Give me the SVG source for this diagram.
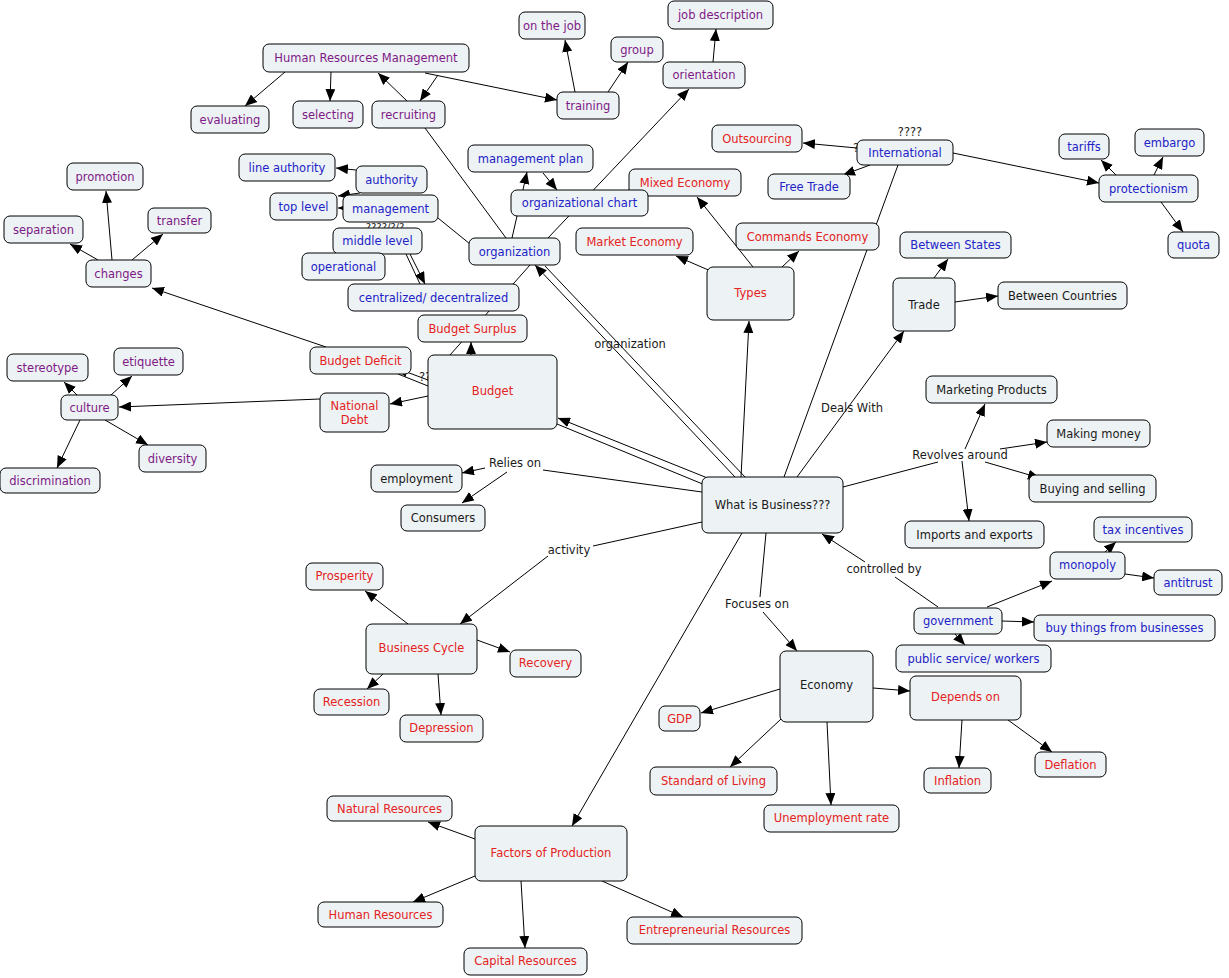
<svg xmlns="http://www.w3.org/2000/svg" width="1229" height="978" viewBox="0 0 1229 978">
<style>
.n rect{fill:#edf2f4;stroke:#000;stroke-width:1}
.n text,.l{font-family:"DejaVu Sans",Verdana,sans-serif;font-size:11.5px;text-anchor:middle;dominant-baseline:central}
.p text{fill:#7d1a86}
.b text{fill:#2222c8}
.r text{fill:#e42222}
.k text{fill:#1a1a1a}
.l{fill:#1a1a1a}
.q{font-family:"DejaVu Sans",sans-serif;font-size:10px;fill:#1a1a1a;text-anchor:middle}
#c path{fill:none;stroke:#000;stroke-width:1}
#c path.a{marker-end:url(#ah)}
</style>
<defs>
<marker id="ah" viewBox="0 0 12 10" refX="12" refY="5" markerWidth="12" markerHeight="10" markerUnits="userSpaceOnUse" orient="auto"><path d="M0,0 L12,5 L0,10 z" fill="#000"/></marker>
</defs>
<rect width="1229" height="978" fill="#fff"/>
<g id="c">
<path class="a" d="M285,72 L245,106"/>
<path class="a" d="M331,72 L330,101"/>
<path class="a" d="M407,101 L378,73"/>
<path class="a" d="M438,75 L420,101"/>
<path class="a" d="M425,73 L557,100"/>
<path class="a" d="M575,92 L565,40"/>
<path class="a" d="M608,92 L628,62"/>
<path class="a" d="M713,62 L716,29"/>
<path class="a" d="M548,238 L689,89"/>
<path d="M425,128 L506,238"/>
<path class="a" d="M512,238 L527,172"/>
<path class="a" d="M543,173 L557,190"/>
<path d="M438,218 L470,244"/>
<path class="a" d="M356,170 L336,168"/>
<path class="a" d="M360,193 L338,196"/>
<path class="a" d="M343,208 L338,208"/>
<path class="a" d="M410,254 L425,284"/>
<path d="M406,254 L420,284"/>
<path d="M450,355 L530,265"/>
<path class="a" d="M471,355 L471,342"/>
<path class="a" d="M428,380 L396,368"/>
<path d="M428,386 L398,374"/>
<path class="a" d="M428,396 L390,404"/>
<path class="a" d="M326,347 L152,288"/>
<path class="a" d="M320,399 L119,407"/>
<path class="a" d="M112,260 L106,191"/>
<path class="a" d="M98,260 L70,244"/>
<path class="a" d="M132,260 L163,234"/>
<path class="a" d="M77,395 L64,382"/>
<path class="a" d="M111,395 L132,376"/>
<path class="a" d="M105,420 L148,445"/>
<path class="a" d="M80,420 L57,468"/>
<path class="a" d="M735,477 L535,265"/>
<path d="M745,477 L545,266"/>
<path class="a" d="M710,479 L558,418"/>
<path d="M705,485 L557,424"/>
<path class="a" d="M741,477 L749,321"/>
<path d="M784,477 L898,165"/>
<path class="a" d="M797,477 L904,331"/>
<path d="M843,487 L938,462"/>
<path class="a" d="M965,449 L985,404"/>
<path class="a" d="M1000,449 L1047,442"/>
<path class="a" d="M985,462 L1040,478"/>
<path class="a" d="M962,461 L969,521"/>
<path d="M702,492 L543,470"/>
<path class="a" d="M485,468 L462,473"/>
<path class="a" d="M507,472 L462,503"/>
<path d="M702,522 L593,546"/>
<path class="a" d="M548,556 L460,624"/>
<path class="a" d="M408,624 L365,591"/>
<path class="a" d="M477,640 L510,652"/>
<path class="a" d="M383,674 L367,689"/>
<path class="a" d="M438,674 L441,715"/>
<path d="M766,533 L760,597"/>
<path class="a" d="M763,612 L797,651"/>
<path class="a" d="M780,689 L701,713"/>
<path class="a" d="M781,719 L730,767"/>
<path class="a" d="M827,722 L831,805"/>
<path class="a" d="M873,688 L910,691"/>
<path class="a" d="M962,720 L959,768"/>
<path class="a" d="M1008,720 L1052,752"/>
<path class="a" d="M742,533 L572,826"/>
<path class="a" d="M475,839 L428,822"/>
<path class="a" d="M475,876 L413,902"/>
<path class="a" d="M521,881 L525,948"/>
<path class="a" d="M602,881 L683,917"/>
<path d="M938,607 L895,577"/>
<path class="a" d="M865,562 L822,534"/>
<path class="a" d="M987,607 L1052,581"/>
<path class="a" d="M1105,552 L1116,542"/>
<path class="a" d="M1125,574 L1154,578"/>
<path class="a" d="M1002,621 L1034,622"/>
<path class="a" d="M955,634 L965,645"/>
<path class="a" d="M857,148 L803,143"/>
<path class="a" d="M870,165 L843,175"/>
<path class="a" d="M953,153 L1099,183"/>
<path class="a" d="M1116,175 L1101,160"/>
<path class="a" d="M1154,175 L1163,157"/>
<path class="a" d="M1161,202 L1183,232"/>
<path class="a" d="M713,272 L676,256"/>
<path class="a" d="M753,267 L697,197"/>
<path class="a" d="M782,267 L799,251"/>
<path class="a" d="M934,278 L948,259"/>
<path class="a" d="M955,302 L998,296"/>
</g>
<text class="l" x="630" y="344">organization</text>
<text class="l" x="852" y="408">Deals With</text>
<text class="l" x="960" y="455">Revolves around</text>
<text class="l" x="515" y="463">Relies on</text>
<text class="l" x="569" y="550">activity</text>
<text class="l" x="757" y="604">Focuses on</text>
<text class="l" x="884" y="569">controlled by</text>
<text class="l" x="910" y="132">????</text>
<text class="l" x="856" y="148">?</text>
<text class="l" x="425" y="377">??</text>
<text class="q" x="385" y="231">????/?/?</text>
<g id="n1" class="n p"><rect x="263" y="44" width="206" height="28" rx="6"/><text x="366" y="58">Human Resources Management</text></g>
<g id="n2" class="n p"><rect x="191" y="106" width="78" height="27" rx="6"/><text x="230" y="119.5">evaluating</text></g>
<g id="n3" class="n p"><rect x="293" y="101" width="70" height="27" rx="6"/><text x="328" y="114.5">selecting</text></g>
<g id="n4" class="n p"><rect x="372" y="101" width="73" height="27" rx="6"/><text x="408.5" y="114.5">recruiting</text></g>
<g id="n5" class="n p"><rect x="557" y="92" width="62" height="27" rx="6"/><text x="588" y="105.5">training</text></g>
<g id="n6" class="n p"><rect x="519" y="12" width="66" height="27" rx="6"/><text x="552" y="25.5">on the job</text></g>
<g id="n7" class="n p"><rect x="611" y="37" width="52" height="25" rx="6"/><text x="637" y="49.5">group</text></g>
<g id="n8" class="n p"><rect x="663" y="62" width="82" height="26" rx="6"/><text x="704" y="75">orientation</text></g>
<g id="n9" class="n p"><rect x="668" y="1" width="105" height="28" rx="6"/><text x="720.5" y="15">job description</text></g>
<g id="n10" class="n r"><rect x="712" y="125" width="90" height="27" rx="6"/><text x="757" y="138.5">Outsourcing</text></g>
<g id="n11" class="n b"><rect x="857" y="140" width="96" height="25" rx="6"/><text x="905" y="152.5">International</text></g>
<g id="n12" class="n b"><rect x="768" y="174" width="82" height="25" rx="6"/><text x="809" y="186.5">Free Trade</text></g>
<g id="n13" class="n b"><rect x="1059" y="134" width="50" height="25" rx="6"/><text x="1084" y="146.5">tariffs</text></g>
<g id="n14" class="n b"><rect x="1135" y="129" width="69" height="27" rx="6"/><text x="1169.5" y="142.5">embargo</text></g>
<g id="n15" class="n b"><rect x="1099" y="175" width="99" height="27" rx="6"/><text x="1148.5" y="188.5">protectionism</text></g>
<g id="n16" class="n b"><rect x="1168" y="232" width="51" height="26" rx="6"/><text x="1193.5" y="245">quota</text></g>
<g id="n17" class="n b"><rect x="468" y="145" width="125" height="27" rx="6"/><text x="530.5" y="158.5">management plan</text></g>
<g id="n18" class="n r"><rect x="629" y="169" width="112" height="27" rx="6"/><text x="685" y="182.5">Mixed Economy</text></g>
<g id="n19" class="n b"><rect x="511" y="190" width="137" height="26" rx="6"/><text x="579.5" y="203">organizational chart</text></g>
<g id="n20" class="n b"><rect x="239" y="154" width="96" height="27" rx="6"/><text x="287" y="167.5">line authority</text></g>
<g id="n21" class="n b"><rect x="356" y="166" width="71" height="27" rx="6"/><text x="391.5" y="179.5">authority</text></g>
<g id="n22" class="n b"><rect x="270" y="193" width="67" height="27" rx="6"/><text x="303.5" y="206.5">top level</text></g>
<g id="n23" class="n b"><rect x="343" y="195" width="95" height="27" rx="6"/><text x="390.5" y="208.5">management</text></g>
<g id="n24" class="n b"><rect x="333" y="228" width="89" height="26" rx="6"/><text x="377.5" y="241">middle level</text></g>
<g id="n25" class="n b"><rect x="302" y="253" width="83" height="27" rx="6"/><text x="343.5" y="266.5">operational</text></g>
<g id="n26" class="n b"><rect x="469" y="238" width="91" height="27" rx="6"/><text x="514.5" y="251.5">organization</text></g>
<g id="n27" class="n b"><rect x="348" y="284" width="171" height="27" rx="6"/><text x="433.5" y="297.5">centralized/ decentralized</text></g>
<g id="n28" class="n r"><rect x="576" y="228" width="117" height="27" rx="6"/><text x="634.5" y="241.5">Market Economy</text></g>
<g id="n29" class="n r"><rect x="736" y="223" width="143" height="27" rx="6"/><text x="807.5" y="236.5">Commands Economy</text></g>
<g id="n30" class="n r"><rect x="707" y="267" width="87" height="53" rx="6"/><text x="750.5" y="293">Types</text></g>
<g id="n31" class="n b"><rect x="900" y="232" width="111" height="26" rx="6"/><text x="955.5" y="245">Between States</text></g>
<g id="n32" class="n k"><rect x="893" y="278" width="62" height="53" rx="6"/><text x="924" y="304.5">Trade</text></g>
<g id="n33" class="n k"><rect x="998" y="282" width="129" height="27" rx="6"/><text x="1062.5" y="295.5">Between Countries</text></g>
<g id="n34" class="n r"><rect x="418" y="315" width="109" height="27" rx="6"/><text x="472.5" y="328.5">Budget Surplus</text></g>
<g id="n35" class="n r"><rect x="310" y="347" width="101" height="27" rx="6"/><text x="360.5" y="360.5">Budget Deficit</text></g>
<g id="n36" class="n r"><rect x="428" y="355" width="129" height="74" rx="6"/><text x="492.5" y="391">Budget</text></g>
<g id="n37" class="n r"><rect x="320" y="393" width="69" height="39" rx="6"/><text x="354.5" y="406">National</text><text x="354.5" y="420">Debt</text></g>
<g id="n38" class="n p"><rect x="67" y="163" width="76" height="27" rx="6"/><text x="105" y="176.5">promotion</text></g>
<g id="n39" class="n p"><rect x="4" y="216" width="79" height="27" rx="6"/><text x="43.5" y="229.5">separation</text></g>
<g id="n40" class="n p"><rect x="148" y="208" width="63" height="25" rx="6"/><text x="179.5" y="220.5">transfer</text></g>
<g id="n41" class="n p"><rect x="86" y="260" width="65" height="27" rx="6"/><text x="118.5" y="273.5">changes</text></g>
<g id="n42" class="n p"><rect x="7" y="354" width="81" height="27" rx="6"/><text x="47.5" y="367.5">stereotype</text></g>
<g id="n43" class="n p"><rect x="114" y="348" width="69" height="27" rx="6"/><text x="148.5" y="361.5">etiquette</text></g>
<g id="n44" class="n p"><rect x="61" y="395" width="57" height="25" rx="6"/><text x="89.5" y="407.5">culture</text></g>
<g id="n45" class="n p"><rect x="139" y="445" width="67" height="27" rx="6"/><text x="172.5" y="458.5">diversity</text></g>
<g id="n46" class="n p"><rect x="0" y="468" width="100" height="25" rx="6"/><text x="50" y="480.5">discrimination</text></g>
<g id="n47" class="n k"><rect x="926" y="376" width="131" height="27" rx="6"/><text x="991.5" y="389.5">Marketing Products</text></g>
<g id="n48" class="n k"><rect x="1047" y="420" width="103" height="27" rx="6"/><text x="1098.5" y="433.5">Making money</text></g>
<g id="n49" class="n k"><rect x="1029" y="475" width="127" height="27" rx="6"/><text x="1092.5" y="488.5">Buying and selling</text></g>
<g id="n50" class="n k"><rect x="905" y="521" width="139" height="27" rx="6"/><text x="974.5" y="534.5">Imports and exports</text></g>
<g id="n51" class="n k"><rect x="702" y="477" width="141" height="56" rx="6"/><text x="772.5" y="505">What is Business???</text></g>
<g id="n52" class="n k"><rect x="371" y="465" width="91" height="27" rx="6"/><text x="416.5" y="478.5">employment</text></g>
<g id="n53" class="n k"><rect x="401" y="505" width="84" height="26" rx="6"/><text x="443" y="518">Consumers</text></g>
<g id="n54" class="n b"><rect x="1094" y="517" width="98" height="25" rx="6"/><text x="1143" y="529.5">tax incentives</text></g>
<g id="n55" class="n b"><rect x="1050" y="552" width="75" height="27" rx="6"/><text x="1087.5" y="565">monopoly</text></g>
<g id="n56" class="n b"><rect x="1154" y="570" width="68" height="25" rx="6"/><text x="1188" y="582.5">antitrust</text></g>
<g id="n57" class="n b"><rect x="914" y="608" width="88" height="26" rx="6"/><text x="958" y="621">government</text></g>
<g id="n58" class="n b"><rect x="1034" y="615" width="181" height="26" rx="6"/><text x="1124.5" y="628">buy things from businesses</text></g>
<g id="n59" class="n b"><rect x="896" y="645" width="155" height="27" rx="6"/><text x="973.5" y="658.5">public service/ workers</text></g>
<g id="n60" class="n r"><rect x="306" y="563" width="77" height="27" rx="6"/><text x="344.5" y="576">Prosperity</text></g>
<g id="n61" class="n r"><rect x="366" y="624" width="111" height="50" rx="6"/><text x="421.5" y="648">Business Cycle</text></g>
<g id="n62" class="n r"><rect x="510" y="650" width="71" height="27" rx="6"/><text x="545.5" y="663">Recovery</text></g>
<g id="n63" class="n r"><rect x="314" y="689" width="75" height="26" rx="6"/><text x="351.5" y="702">Recession</text></g>
<g id="n64" class="n r"><rect x="400" y="715" width="83" height="27" rx="6"/><text x="441.5" y="728">Depression</text></g>
<g id="n65" class="n k"><rect x="780" y="651" width="93" height="71" rx="6"/><text x="826.5" y="685">Economy</text></g>
<g id="n66" class="n r"><rect x="910" y="676" width="111" height="44" rx="6"/><text x="965.5" y="697">Depends on</text></g>
<g id="n67" class="n r"><rect x="659" y="706" width="41" height="25" rx="6"/><text x="679.5" y="718.5">GDP</text></g>
<g id="n68" class="n r"><rect x="650" y="767" width="127" height="28" rx="6"/><text x="713.5" y="781">Standard of Living</text></g>
<g id="n69" class="n r"><rect x="764" y="805" width="135" height="27" rx="6"/><text x="831.5" y="818">Unemployment rate</text></g>
<g id="n70" class="n r"><rect x="924" y="768" width="67" height="25" rx="6"/><text x="957.5" y="780.5">Inflation</text></g>
<g id="n71" class="n r"><rect x="1035" y="752" width="71" height="25" rx="6"/><text x="1070.5" y="764.5">Deflation</text></g>
<g id="n72" class="n r"><rect x="475" y="826" width="152" height="55" rx="6"/><text x="551" y="853">Factors of Production</text></g>
<g id="n73" class="n r"><rect x="327" y="796" width="125" height="25" rx="6"/><text x="389.5" y="808.5">Natural Resources</text></g>
<g id="n74" class="n r"><rect x="318" y="902" width="125" height="25" rx="6"/><text x="380.5" y="914.5">Human Resources</text></g>
<g id="n75" class="n r"><rect x="464" y="948" width="123" height="27" rx="6"/><text x="525.5" y="961">Capital Resources</text></g>
<g id="n76" class="n r"><rect x="627" y="917" width="175" height="27" rx="6"/><text x="714.5" y="930">Entrepreneurial Resources</text></g>
</svg>
